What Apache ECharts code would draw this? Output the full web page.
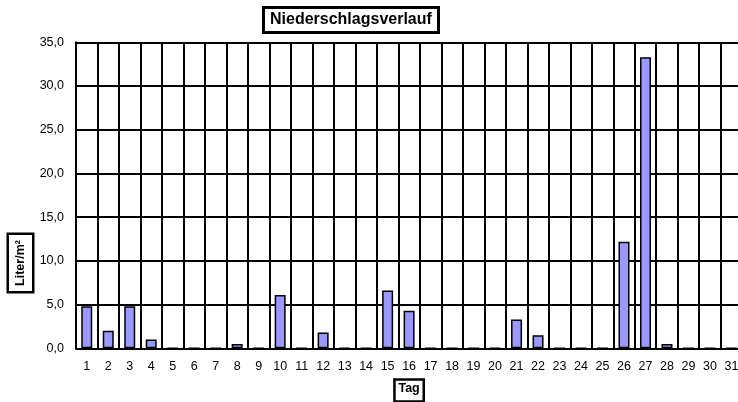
<!DOCTYPE html>
<html>
<head>
<meta charset="utf-8">
<script src="https://cdn.jsdelivr.net/npm/echarts@6/dist/echarts.min.js"></script>
<style>
  html, body { margin: 0; padding: 0; background: #fff; }
  #chart { width: 738px; height: 402px; }
</style>
</head>
<body>
<div id="chart"></div>
<script>
// Tage des Monats
var tage = ['1','2','3','4','5','6','7','8','9','10','11','12','13','14','15','16',
            '17','18','19','20','21','22','23','24','25','26','27','28','29','30','31'];
// Niederschlag in Liter/m²
var niederschlag = [4.8, 2.0, 4.8, 1.0, 0, 0, 0, 0.5, 0, 6.1, 0, 1.8, 0, 0, 6.6, 4.3,
                    0, 0, 0, 0, 3.3, 1.5, 0, 0, 0, 12.2, 33.3, 0.5, 0, 0, 0];
var yMin = 0, yMax = 35, yStep = 5;

var font = 'Liberation Sans';
var chart = echarts.init(document.getElementById('chart'));

chart.setOption({
    animation: false,
    title: {
        text: 'Niederschlagsverlauf',
        left: 263,
        top: 7,
        padding: [5, 7],
        borderColor: '#000',
        borderWidth: 3,
        textStyle: { fontFamily: font, fontSize: 16, fontWeight: 'bold', color: '#000' }
    },
    grid: {
        left: 76,
        top: 42.3,
        right: -4.2,
        bottom: 53.7,
        outerBoundsMode: 'none'
    },
    xAxis: {
        type: 'category',
        data: tage,
        name: 'Tag',
        nameLocation: 'middle',
        nameGap: 31,
        nameTextStyle: {
            fontFamily: font, fontSize: 12.5, fontWeight: 'bold', color: '#000',
            borderColor: '#000', borderWidth: 2.5, padding: [3, 4, 6, 4],
            verticalAlign: 'top'
        },
        axisLine: { lineStyle: { color: '#000', width: 2 } },
        axisTick: { show: false },
        axisLabel: { fontFamily: font, fontSize: 12.5, color: '#000', margin: 12, interval: 0 },
        splitLine: { show: true, interval: 0, lineStyle: { color: '#000', width: 2 } }
    },
    yAxis: {
        type: 'value',
        min: yMin,
        max: yMax,
        interval: yStep,
        axisLine: { show: true, lineStyle: { color: '#000', width: 2 } },
        axisTick: { show: false },
        axisLabel: {
            fontFamily: font, fontSize: 12.5, color: '#000', margin: 12,
            formatter: function (v) { return v.toFixed(1).replace('.', ','); }
        },
        splitLine: { show: true, lineStyle: { color: '#000', width: 2 } }
    },
    graphic: [{
        type: 'text',
        x: 20.5,
        y: 263,
        rotation: Math.PI / 2,
        style: {
            text: 'Liter/m²',
            font: 'bold 12.5px "Liberation Sans"',
            fill: '#000',
            align: 'center',
            verticalAlign: 'middle',
            borderColor: '#000',
            borderWidth: 2.5,
            padding: [5, 5],
            backgroundColor: '#fff'
        }
    }],
    series: [{
        type: 'bar',
        data: niederschlag,
        barWidth: 11,
        itemStyle: { color: '#9999ff', borderColor: '#000', borderWidth: 1.5 }
    }]
});
</script>
</body>
</html>
